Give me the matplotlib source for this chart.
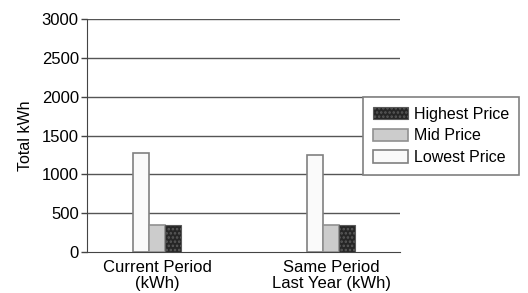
import numpy as np
import matplotlib.pyplot as plt

plt.rcParams['font.family'] = ['Liberation Sans', 'DejaVu Sans']
plt.rcParams['hatch.linewidth'] = 1.2

# datos
categories = ['Current Period\n(kWh)', 'Same Period\nLast Year (kWh)']
lowest = [1280, 1250]
mid = [350, 350]
highest = [350, 350]
yticks = [0, 500, 1000, 1500, 2000, 2500, 3000]

fig = plt.figure(figsize=(5.28, 2.93), dpi=100)
ax = fig.add_axes([0.165, 0.14, 0.593, 0.795])

x = np.arange(len(categories))
w = 0.092

# barras: lowest, mid, highest de izquierda a derecha
ax.bar(x - w, lowest, w, facecolor='#fafafa', edgecolor='#808080', linewidth=1.2,
       label='Lowest Price', zorder=3)
ax.bar(x, mid, w, facecolor='#cccccc', edgecolor='#909090', linewidth=1.2,
       label='Mid Price', zorder=3)
ax.bar(x + w, highest, w, facecolor='#262626', edgecolor='#5a5a5a', hatch='....',
       linewidth=0.8, label='Highest Price', zorder=3)

ax.set_ylim(0, 3000)
ax.set_xlim(-0.402, 1.397)
ax.set_yticks(yticks)
ax.set_yticklabels([str(v) for v in yticks], fontsize=12)
ax.set_xticks(x)
ax.set_xticklabels(categories, fontsize=12, linespacing=1.05)
ax.tick_params(axis='x', length=0, pad=6)
ax.tick_params(axis='y', length=4, width=1, color='#444444', pad=2)
ax.set_ylabel('Total kWh', fontsize=11.5, labelpad=6)

for v in yticks[1:]:
    ax.axhline(v, color='#555555', linewidth=1, zorder=1)

ax.spines['top'].set_visible(False)
ax.spines['right'].set_visible(False)
ax.spines['left'].set_color('#444444')
ax.spines['bottom'].set_color('#444444')

# leyenda en orden inverso
h, l = ax.get_legend_handles_labels()
leg = fig.legend(h[::-1], l[::-1], loc='upper left', bbox_to_anchor=(0.6875, 0.669),
                 fontsize=11.5, fancybox=False, framealpha=1, edgecolor='#808080',
                 handlelength=2.2, handleheight=0.8, labelspacing=0.42,
                 handletextpad=0.4, borderpad=0.6, borderaxespad=0)
leg.get_frame().set_linewidth(1.2)

fig.savefig('out.png', dpi=100)
